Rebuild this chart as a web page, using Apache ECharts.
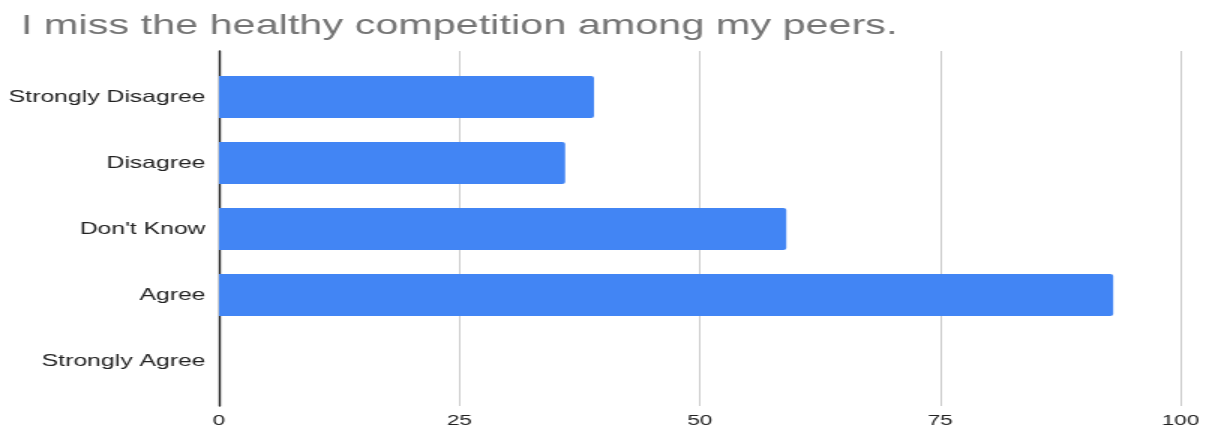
<!DOCTYPE html>
<html>
<head>
<meta charset="utf-8">
<script src="https://cdn.jsdelivr.net/npm/echarts@6/dist/echarts.min.js"></script>
<style>
  html, body { margin: 0; padding: 0; background: #fff; overflow: hidden; }
  #wrap { width: 1210px; height: 428px; overflow: hidden; }
  /* chart is laid out narrow and widened 1.5x horizontally */
  #chart { width: 807px; height: 428px; transform: scaleX(1.5); transform-origin: 0 0; }
</style>
</head>
<body>
<div id="wrap"><div id="chart"></div></div>
<script>
const titleText = "I miss the healthy competition among my peers.";
const categories = ["Strongly Disagree", "Disagree", "Don't Know", "Agree", "Strongly Agree"];
const responses = [39, 36, 59, 93, 0];
const xTicks = [0, 25, 50, 75, 100];

const FONT = 'Liberation Sans, Arial, sans-serif';
const chart = echarts.init(document.getElementById('chart'), null, { renderer: 'canvas' });

chart.setOption({
  animation: false,
  backgroundColor: '#ffffff',
  title: {
    text: titleText,
    left: 9,
    top: 7,
    textStyle: { fontFamily: FONT, fontSize: 27.6, fontWeight: 'normal', color: '#757575' }
  },
  grid: [
    // frame grid: vertical gridlines, zero line and tick labels
    { left: 146, right: 20, top: 51, bottom: 22 },
    // bar grid: category bands
    { left: 146, right: 20, top: 64, bottom: 34 }
  ],
  xAxis: [
    {
      gridIndex: 0, type: 'value', min: xTicks[0], max: xTicks[xTicks.length - 1],
      interval: xTicks[1] - xTicks[0],
      axisLine: { show: false }, axisTick: { show: false },
      splitLine: { show: true, lineStyle: { color: '#cccccc', width: 1 } },
      axisLabel: { color: '#222222', fontFamily: FONT, fontSize: 15, margin: 7 }
    },
    {
      gridIndex: 1, type: 'value', min: xTicks[0], max: xTicks[xTicks.length - 1],
      show: false
    }
  ],
  yAxis: [
    {
      gridIndex: 0, type: 'category', data: categories, inverse: true,
      axisLine: { show: true, lineStyle: { color: '#1a1a1a', width: 1.4 } },
      axisTick: { show: false }, axisLabel: { show: false }, splitLine: { show: false }
    },
    {
      gridIndex: 1, type: 'category', data: categories, inverse: true,
      axisLine: { show: false }, axisTick: { show: false }, splitLine: { show: false },
      axisLabel: { color: '#222222', fontFamily: FONT, fontSize: 16.5, margin: 9 }
    }
  ],
  series: [
    {
      type: 'bar',
      xAxisIndex: 1, yAxisIndex: 1,
      data: responses,
      barWidth: 42,
      itemStyle: { color: '#4285F4', borderRadius: [0, 2, 2, 0] }
    }
  ]
});
</script>
</body>
</html>
